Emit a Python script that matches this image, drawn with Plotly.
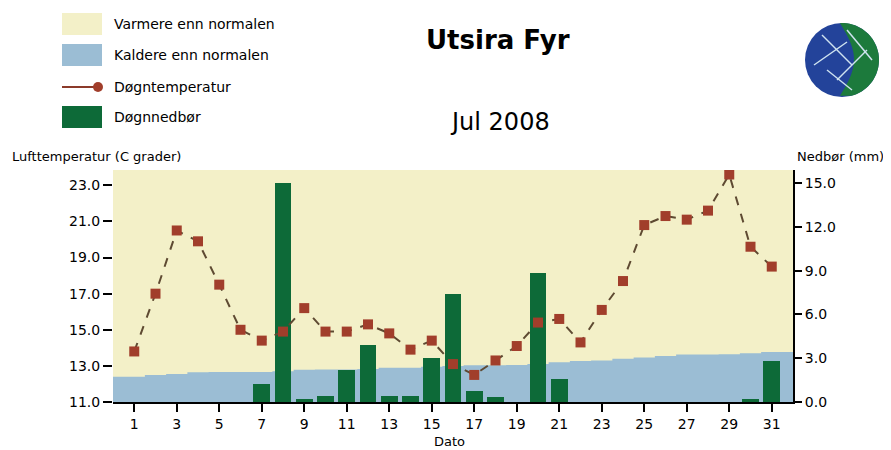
import math
import plotly.graph_objects as go

# ---------------- data ----------------
days = list(range(1, 32))
temps = [13.8, 17.0, 20.5, 19.9, 17.5, 15.0, 14.4, 14.9, 16.2, 14.9, 14.9, 15.3, 14.8, 13.9, 14.4,
         13.1, 12.5, 13.3, 14.1, 15.4, 15.6, 14.3, 16.1, 17.7, 20.8, 21.3, 21.1, 21.6, 23.6, 19.6, 18.5]
precip = [0, 0, 0, 0, 0, 0, 1.2, 15.0, 0.2, 0.4, 2.2, 3.9, 0.4, 0.4, 3.0,
          7.4, 0.75, 0.35, 0, 8.85, 1.6, 0, 0, 0, 0, 0, 0, 0, 0, 0.2, 2.8]
normal = [12.4, 12.5, 12.55, 12.65, 12.66, 12.66, 12.66, 12.7, 12.78, 12.8, 12.8, 12.83, 12.9, 12.9, 12.95,
          13.0, 13.03, 13.03, 13.05, 13.1, 13.2, 13.27, 13.3, 13.4, 13.46, 13.55, 13.63, 13.63, 13.65, 13.7, 13.77]
temp_ticks = [11, 13, 15, 17, 19, 21, 23]
precip_ticks = [0, 3, 6, 9, 12, 15]
x_ticks = list(range(1, 32, 2))

title = "Utsira Fyr"
subtitle = "Jul 2008"
legend_labels = ["Varmere enn normalen", "Kaldere enn normalen", "Døgntemperatur", "Døgnnedbør"]
left_title = "Lufttemperatur (C grader)"
right_title = "Nedbør (mm)"
x_title = "Dato"

# ---------------- style ----------------
YELLOW = "#f3f0c8"
BLUE = "#9bbdd4"
GREEN = "#0d6a38"
MARK = "#a13e2b"
LINE = "#5e4a32"
FONT = "DejaVu Sans"

W, H = 891, 450
OFF = 8                       # default page body margin
PL, PR, PT, PB = 113, 793, 170, 402   # plot area in page pixels
PW, PH = PR - PL, PB - PT


def px(x):
    return (x - PL) / PW


def py(y):
    return (PB - y) / PH


xmin, xmax = 0, 32
xn = [xmin] + days + [xmax]
yn = [normal[0]] + normal + [normal[-1]]

fig = go.Figure()
fig.add_trace(go.Scatter(x=xn, y=yn, mode="lines", yaxis="y",
                         line=dict(width=0, shape="hvh", color=BLUE),
                         fill="tozeroy", fillcolor=BLUE, hoverinfo="skip",
                         showlegend=False))
fig.add_trace(go.Bar(x=days, y=precip, yaxis="y2", width=0.78,
                     marker=dict(color=GREEN, line=dict(width=0)),
                     showlegend=False))
fig.add_trace(go.Scatter(x=days, y=temps, yaxis="y3", mode="lines+markers",
                         line=dict(color=LINE, dash="dash", width=2),
                         marker=dict(symbol="square", size=10, color=MARK),
                         showlegend=False))

tfont = dict(family=FONT, size=14, color="black")

fig.update_layout(
    width=W - OFF, height=H - OFF,
    margin=dict(l=PL - OFF, r=W - PR, t=PT - OFF, b=H - PB, autoexpand=False),
    paper_bgcolor="white", plot_bgcolor=YELLOW,
    font=tfont,
    xaxis=dict(range=[xmin, xmax], tickvals=x_ticks, ticks="outside", ticklen=8, tickwidth=2,
               tickcolor="black", showline=True, linecolor="black", linewidth=2,
               showgrid=False, zeroline=False, tickfont=tfont),
    yaxis=dict(range=[11, 23.85], tickvals=temp_ticks, ticktext=[f"{v:.1f}" for v in temp_ticks],
               ticks="outside", ticklen=9, tickwidth=2, tickcolor="black",
               showline=False, showgrid=False, zeroline=False, tickfont=tfont),
    yaxis2=dict(range=[0, 15.9], overlaying="y", side="right", tickvals=precip_ticks,
                ticktext=[f"{v:.1f}" for v in precip_ticks], ticks="outside", ticklen=7,
                tickwidth=2, tickcolor="black", showline=True, linecolor="black", linewidth=2,
                showgrid=False, zeroline=False, tickfont=tfont),
    yaxis3=dict(range=[11, 23.85], overlaying="y", visible=False),
    bargap=0,
)

ann = []
shapes = []


def label(x, y, text, xanchor="center", size=13, bold=False):
    ann.append(dict(x=px(x), y=py(y), xref="paper", yref="paper",
                    text=f"<b>{text}</b>" if bold else text,
                    xanchor=xanchor, yanchor="middle", showarrow=False,
                    font=dict(family=FONT, size=size, color="black")))


label(498, 40, title, size=26, bold=True)
label(500, 122, subtitle, size=24)
label(10, 156, left_title, xanchor="left", size=13)
label(886, 156, right_title, xanchor="right", size=13)
label(449, 441, x_title, size=13)

# legend (manual)
rows = [24, 55, 87, 117]
sw_x0, sw_x1 = 62, 102
for i, (lab, yc) in enumerate(zip(legend_labels, rows)):
    label(112, yc, lab, xanchor="left", size=14)
    if i in (0, 1, 3):
        col = [YELLOW, BLUE, None, GREEN][i]
        shapes.append(dict(type="rect", xref="paper", yref="paper", x0=px(sw_x0), x1=px(sw_x1),
                           y0=py(yc + 11), y1=py(yc - 11), fillcolor=col, line=dict(width=0)))
    else:
        shapes.append(dict(type="line", xref="paper", yref="paper", x0=px(sw_x0), x1=px(sw_x1 - 4),
                           y0=py(yc), y1=py(yc), line=dict(color="#8b3a2a", width=2)))
        shapes.append(dict(type="circle", xref="paper", yref="paper", x0=px(sw_x1 - 9), x1=px(sw_x1 + 1),
                           y0=py(yc + 5), y1=py(yc - 5), fillcolor=MARK, line=dict(width=0)))

# logo (globe)
cx, cy, r = 842, 60, 37
shapes.append(dict(type="circle", xref="paper", yref="paper", x0=px(cx - r), x1=px(cx + r),
                   y0=py(cy + r), y1=py(cy - r), fillcolor="#23439a", line=dict(width=0)))
pts = []
for k in range(0, 41):
    a = math.radians(-75 + 170 * k / 40)
    pts.append((cx + r * math.cos(a), cy - r * math.sin(a)))
for k in range(0, 21):
    t = k / 20
    pts.append((cx - 2 + 14 * math.sin(math.pi * t), cy - r * math.sin(math.radians(95)) + t * (2 * r * 0.98)))
path = "M " + " L ".join(f"{px(a):.5f},{py(b):.5f}" for a, b in pts) + " Z"
shapes.append(dict(type="path", xref="paper", yref="paper", path=path, fillcolor="#1c7a3c",
                   line=dict(width=0)))
for (a0, b0, a1, b1) in [(-20, -25, 10, 5), (-28, 5, 5, -18), (-5, 20, 25, -10), (5, -30, 30, 0), (-15, 10, 10, 30)]:
    shapes.append(dict(type="line", xref="paper", yref="paper", x0=px(cx + a0), y0=py(cy + b0),
                       x1=px(cx + a1), y1=py(cy + b1), line=dict(color="#cfe3f0", width=1.5)))

fig.update_layout(annotations=ann, shapes=shapes)
fig.write_html("out.html")
